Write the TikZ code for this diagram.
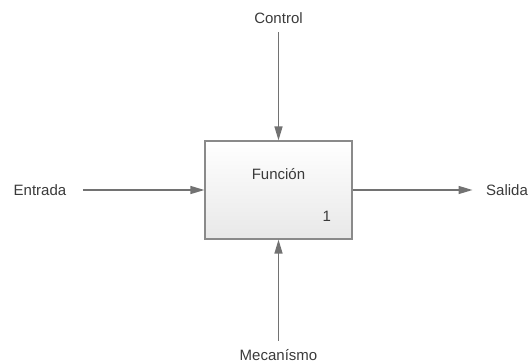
\documentclass[tikz,border=0pt]{standalone}
\usepackage{fontspec}
\setmainfont{Liberation Sans}
\usetikzlibrary {arrows.meta, positioning}

\definecolor{linegray}{HTML}{727272}
\definecolor{boxgray}{HTML}{8A8A8A}
\definecolor{textgray}{HTML}{3A3A3A}

\begin{document}
\begin{tikzpicture}[
    x=1pt,
    y=-1pt,
    ->,
    >={Triangle[length=14pt, width=8pt]},
    line width=1.3pt,
    on grid,
    every node/.style={inner sep=0pt, text=textgray, font=\fontsize{15}{17}\selectfont},
    funcbox/.style={draw=boxgray, line width=1.2pt, top color=white, bottom color=black!9,
        minimum width=147pt, minimum height=98pt},
    flow/.style={draw=linegray},
]
    \useasboundingbox (0,0) rectangle (530,364);

    \node[funcbox]                              (F)  at (278.5,190) {};
    \node[above=16pt of F]                      (FN) {Función};
    \node[above left=17pt and 21pt of F.south east] (NR) {1};

    \node[above=172pt of F]  (C) {Control};
    \node[below=165pt of F]  (M) {Mecanísmo};
    \node[left=238.5pt of F] (E) {Entrada};
    \node[right=228.5pt of F] (S) {Salida};

    \path
        (E) edge [flow, shorten <=16pt]             (F)
        (F) edge [flow, shorten >=13pt]             (S)
        (C) edge [flow, shorten <=8pt]              (F)
        (M) edge [flow, shorten <=8pt]              (F)
    ;
\end{tikzpicture}
\end{document}
